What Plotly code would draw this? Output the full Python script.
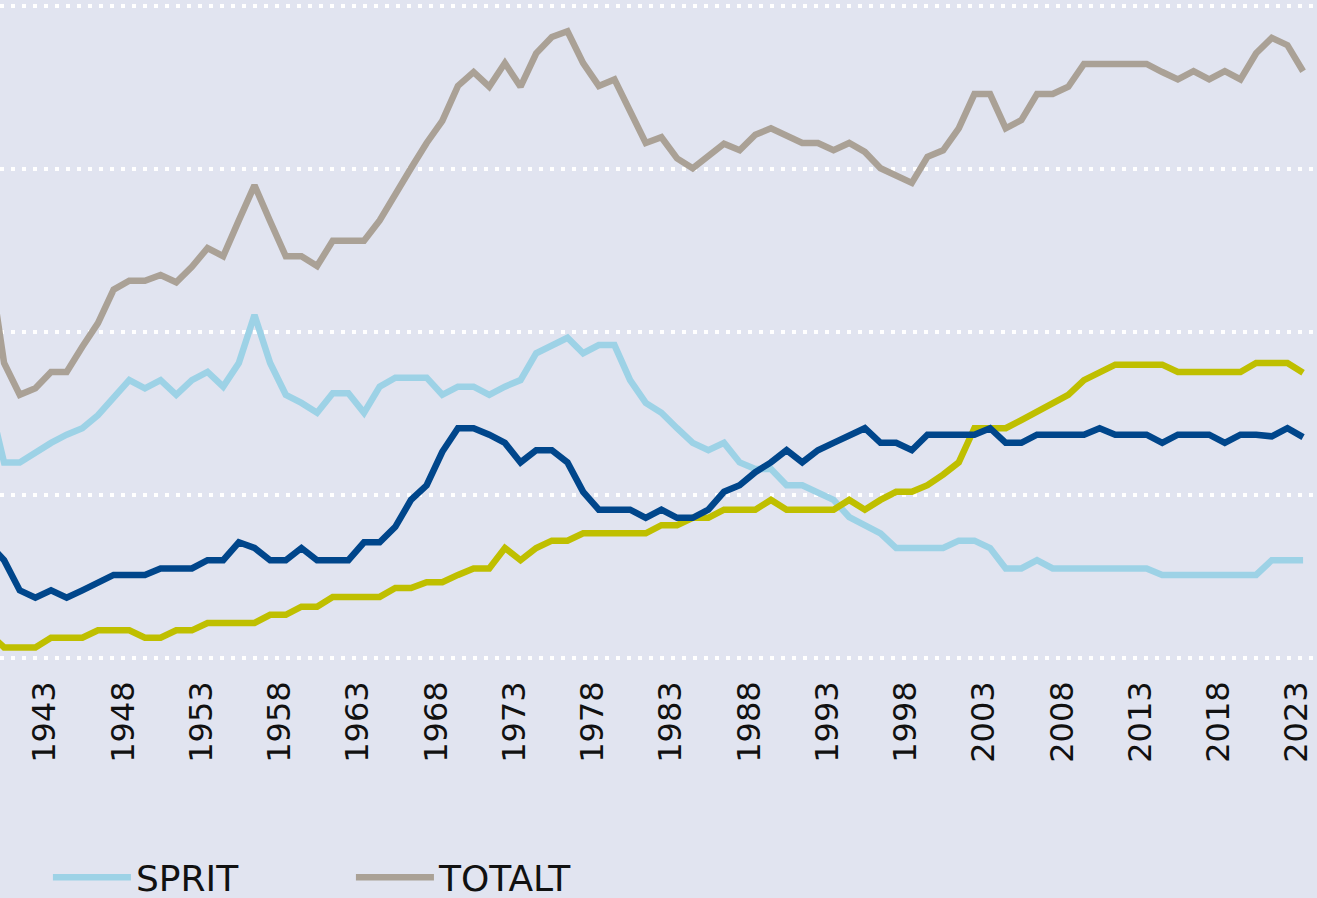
import plotly.graph_objects as go

years = list(range(1939, 2024))

totalt = [4.91, 3.62, 3.23, 3.31, 3.51, 3.51, 3.82, 4.11, 4.52, 4.63,
          4.63, 4.70, 4.61, 4.80, 5.03, 4.93, 5.37, 5.80, 5.36, 4.93,
          4.93, 4.81, 5.12, 5.12, 5.12, 5.37, 5.71, 6.01, 6.32, 6.59,
          7.02, 7.19, 7.01, 7.30, 7.01, 7.42, 7.62, 7.69, 7.30, 7.02,
          7.10, 6.69, 6.32, 6.39, 6.13, 6.01, 6.15, 6.31, 6.23, 6.42,
          6.50, 6.40, 6.32, 6.32, 6.23, 6.32, 6.21, 6.01, 5.93, 5.83,
          6.15, 6.23, 6.50, 6.92, 6.92, 6.50, 6.60, 6.92, 6.92, 7.01,
          7.29, 7.29, 7.29, 7.29, 7.29, 7.19, 7.10, 7.20, 7.10, 7.20,
          7.10, 7.42, 7.61, 7.52, 7.20]

sprit = [3.20, 2.40, 2.40, 2.53, 2.64, 2.74, 2.82, 2.98, 3.20, 3.41,
         3.31, 3.41, 3.23, 3.41, 3.51, 3.33, 3.62, 4.21, 3.62, 3.23,
         3.13, 3.01, 3.25, 3.25, 3.01, 3.33, 3.44, 3.44, 3.44, 3.23,
         3.33, 3.33, 3.23, 3.33, 3.41, 3.74, 3.84, 3.93, 3.74, 3.84,
         3.84, 3.41, 3.13, 3.01, 2.82, 2.64, 2.55, 2.64, 2.40, 2.32,
         2.32, 2.12, 2.12, 2.04, 1.94, 1.73, 1.63, 1.53, 1.35, 1.35,
         1.35, 1.35, 1.44, 1.44, 1.35, 1.10, 1.10, 1.20, 1.10, 1.10,
         1.10, 1.10, 1.10, 1.10, 1.10, 1.02, 1.02, 1.02, 1.02, 1.02,
         1.02, 1.02, 1.20, 1.20, 1.20]

ol = [1.41, 1.20, 0.83, 0.74, 0.83, 0.74, 0.83, 0.93, 1.02, 1.02,
      1.02, 1.10, 1.10, 1.10, 1.20, 1.20, 1.42, 1.35, 1.20, 1.20,
      1.35, 1.20, 1.20, 1.20, 1.42, 1.42, 1.61, 1.94, 2.12, 2.53,
      2.82, 2.82, 2.74, 2.64, 2.40, 2.55, 2.55, 2.40, 2.04, 1.82,
      1.82, 1.82, 1.72, 1.82, 1.72, 1.72, 1.82, 2.04, 2.12, 2.28,
      2.40, 2.55, 2.40, 2.55, 2.64, 2.74, 2.82, 2.64, 2.64, 2.55,
      2.74, 2.74, 2.74, 2.74, 2.82, 2.64, 2.64, 2.74, 2.74, 2.74,
      2.74, 2.82, 2.74, 2.74, 2.74, 2.64, 2.74, 2.74, 2.74, 2.64,
      2.74, 2.74, 2.72, 2.82, 2.71]

vin = [0.31, 0.13, 0.13, 0.13, 0.25, 0.25, 0.25, 0.34, 0.34, 0.34,
       0.25, 0.25, 0.34, 0.34, 0.43, 0.43, 0.43, 0.43, 0.53, 0.53,
       0.63, 0.63, 0.75, 0.75, 0.75, 0.75, 0.86, 0.86, 0.93, 0.93,
       1.02, 1.10, 1.10, 1.35, 1.20, 1.35, 1.44, 1.44, 1.53, 1.53,
       1.53, 1.53, 1.53, 1.63, 1.63, 1.72, 1.72, 1.82, 1.82, 1.82,
       1.94, 1.82, 1.82, 1.82, 1.82, 1.94, 1.82, 1.94, 2.04, 2.04,
       2.12, 2.25, 2.40, 2.82, 2.82, 2.82, 2.92, 3.02, 3.13, 3.23,
       3.41, 3.51, 3.60, 3.60, 3.60, 3.60, 3.51, 3.51, 3.51, 3.51,
       3.51, 3.62, 3.62, 3.62, 3.50]

tick_years = list(range(1943, 2024, 5))
tick_text = [str(y) for y in tick_years]
grid_vals = [0, 2, 4, 6, 8]

FONT = "DejaVu Sans"
LW = 6.5

fig = go.Figure()
fig.add_trace(go.Scatter(x=years, y=sprit, name="SPRIT", mode="lines",
                         line=dict(color="#9dd2e6", width=LW)))
fig.add_trace(go.Scatter(x=years, y=totalt, name="TOTALT", mode="lines",
                         line=dict(color="#aaa196", width=LW)))
fig.add_trace(go.Scatter(x=years, y=vin, name="VIN", mode="lines", showlegend=False,
                         line=dict(color="#bfbf00", width=LW)))
fig.add_trace(go.Scatter(x=years, y=ol, name="ÖL", mode="lines", showlegend=False,
                         line=dict(color="#00468b", width=LW)))

fig.update_layout(
    width=1317, height=898,
    margin=dict(l=0, r=0, t=0, b=224, autoexpand=False),
    paper_bgcolor="#e1e4f0", plot_bgcolor="#e1e4f0",
    font=dict(family=FONT, color="#111111"),
    showlegend=True,
    legend=dict(orientation="h", xref="container", yref="container",
                x=0.0364, y=0.023, xanchor="left", yanchor="middle",
                font=dict(size=36, family=FONT, color="#111111"),
                itemwidth=78, entrywidth=210, entrywidthmode="pixels",
                bgcolor="rgba(0,0,0,0)"),
    hovermode=False,
)
fig.update_xaxes(range=[1939.74, 2023.89], tickvals=tick_years, ticktext=tick_text,
                 tickangle=-90, showgrid=False, zeroline=False, showline=False,
                 ticks="", ticklabelshift=-6,
                 tickfont=dict(size=32, family=FONT, color="#111111"))
fig.update_yaxes(range=[-0.196, 8.074], tickvals=grid_vals, showticklabels=False,
                 showgrid=True, gridcolor="#ffffff", gridwidth=4, griddash="4px,7px",
                 zeroline=False, showline=False, ticks="")

fig.write_html("out.html",
               config={"displayModeBar": False, "staticPlot": True},
               post_script="document.body.style.margin='0';document.body.style.padding='0';"
                           "document.body.style.overflow='hidden';")
